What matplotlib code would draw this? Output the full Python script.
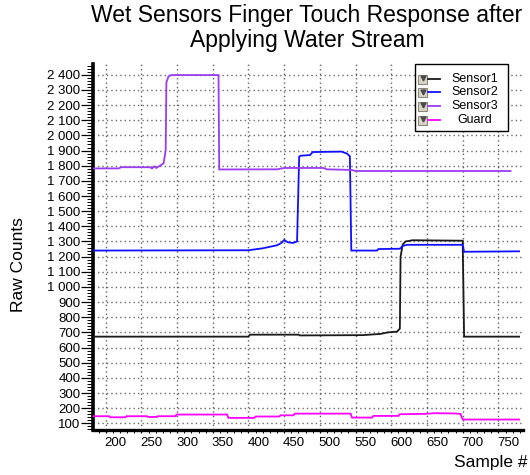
import matplotlib
matplotlib.use("Agg")
import matplotlib.pyplot as plt
from matplotlib.patches import Rectangle
from matplotlib.lines import Line2D
from matplotlib.ticker import MultipleLocator, FuncFormatter
from matplotlib.transforms import ScaledTranslation

plt.rcParams['font.family'] = ['Liberation Sans', 'DejaVu Sans']

# ---- data (sample number vs raw counts, breakpoints of each trace) ----
sensor1_x = [182, 400, 402, 470, 472, 560, 585, 595, 608, 612, 613, 616, 620, 630, 700, 702, 779]
sensor1_y = [672, 672, 685, 685, 680, 682, 690, 700, 705, 725, 1200, 1280, 1300, 1308, 1305, 672, 672]

sensor2_x = [182, 400, 420, 440, 446, 450, 455, 462, 468, 471, 473, 486, 490, 530, 538, 542, 544,
             580, 582, 612, 616, 622, 700, 702, 779]
sensor2_y = [1240, 1242, 1255, 1275, 1290, 1310, 1295, 1290, 1300, 1860, 1866, 1870, 1890, 1893, 1880, 1862, 1240,
             1240, 1250, 1252, 1270, 1278, 1278, 1232, 1235]

sensor3_x = [182, 218, 222, 262, 265, 268, 271, 276, 281, 284, 285, 288, 292, 358, 359, 440, 450, 505, 510,
             544, 550, 767]
sensor3_y = [1782, 1782, 1790, 1790, 1782, 1795, 1785, 1800, 1815, 1900, 2350, 2390, 2398, 2398, 1775, 1776,
             1785, 1785, 1776, 1772, 1765, 1765]

guard_x = [182, 205, 206, 228, 229, 258, 259, 272, 273, 298, 299, 370, 372, 408, 410, 443, 445, 463, 465,
           543, 545, 573, 575, 610, 612, 650, 660, 690, 697, 700, 779]
guard_y = [147, 147, 140, 140, 147, 147, 142, 142, 147, 147, 158, 158, 136, 136, 145, 145, 153, 153, 164,
           164, 138, 138, 149, 149, 160, 163, 167, 165, 162, 125, 125]

series_names = ["Sensor1", "Sensor2", "Sensor3", "Guard"]
series_colors = ["#1a1a1a", "#1010ff", "#9a3cf2", "#ff00ff"]
series_x = [sensor1_x, sensor2_x, sensor3_x, guard_x]
series_y = [sensor1_y, sensor2_y, sensor3_y, guard_y]

x_ticks = list(range(200, 751, 50))
y_ticks = list(range(100, 2401, 100))

title = "Wet Sensors Finger Touch Response after\nApplying Water Stream"
x_label = "Sample #"
y_label = "Raw Counts"

# ---- figure ----
W, H = 530, 475
fig = plt.figure(figsize=(W / 100, H / 100), dpi=100)
fig.patch.set_facecolor("white")


def fx(x):
    return x / W


def fy(y):
    return 1 - y / H


ax = fig.add_axes([fx(93), fy(430), (523 - 93) / W, (430 - 64) / H])
ax.set_xlim(182.2, 784.5)
ax.set_ylim(56, 2471)
ax.set_axisbelow(True)

for xs, ys, c in zip(series_x, series_y, series_colors):
    ax.plot(xs, ys, color=c, lw=1.3, solid_joinstyle="miter", zorder=3)

ax.set_xticks(x_ticks)
ax.set_yticks(y_ticks)
ax.xaxis.set_minor_locator(MultipleLocator(10))
ax.yaxis.set_minor_locator(MultipleLocator(20))
ax.yaxis.set_major_formatter(FuncFormatter(lambda v, p: f"{int(v):,}".replace(",", " ")))

# dotted major grid
for yv in y_ticks:
    ax.axhline(yv, color="#6a6a6a", lw=1.0, linestyle=(0, (1.0, 2.2)), zorder=1)
for xv in x_ticks:
    ax.axvline(xv, color="#606060", lw=1.0, linestyle=(0, (1.0, 2.2)), zorder=1)

for side in ("top", "right"):
    ax.spines[side].set_visible(False)
ax.spines["left"].set_linewidth(2.6)
ax.spines["bottom"].set_linewidth(2.4)

ax.tick_params(axis="y", which="major", length=8.6, width=0.9, pad=0.5, labelsize=9.5, direction="out")
ax.tick_params(axis="y", which="minor", length=4.3, width=0.7, direction="out")
ax.tick_params(axis="x", which="major", length=2.5, width=0.9, pad=2.5, labelsize=9.5, direction="out")
ax.tick_params(axis="x", which="minor", length=1.8, width=0.7, direction="out")

shift = ScaledTranslation(10 / 100, 0, fig.dpi_scale_trans)
for t in ax.xaxis.get_major_ticks():
    t.label1.set_transform(t.label1.get_transform() + shift)

fig.text(fx(307), fy(28), title, ha="center", va="center", fontsize=16.5, linespacing=1.12)
fig.text(fx(528), fy(462), x_label, ha="right", va="center", fontsize=12.5)
fig.text(fx(19), fy(265), y_label, ha="center", va="center", rotation=90, fontsize=12.5)

# ---- legend panel ----
fig.add_artist(Rectangle((fx(415), fy(131)), (508 - 415) / W, (131 - 64) / H,
                         transform=fig.transFigure, facecolor="white", edgecolor="black", lw=1.0))
row_y = [79, 92.5, 106, 120]
for name, c, ry in zip(series_names, series_colors, row_y):
    fig.add_artist(Rectangle((fx(418), fy(ry + 4.5)), 9 / W, 9 / H, transform=fig.transFigure,
                             facecolor="#d9d6c6", edgecolor="#8a887c", lw=0.8))
    fig.add_artist(Line2D([fx(422.5)], [fy(ry - 1)], transform=fig.transFigure, marker="v",
                          markersize=3.5, color="#4a4a4a", lw=0))
    fig.add_artist(Line2D([fx(428), fx(440)], [fy(ry), fy(ry)], transform=fig.transFigure,
                          color=c, lw=1.3))
    fig.text(fx(475), fy(ry), name, ha="center", va="center", fontsize=9)

fig.savefig("out.png", dpi=100, facecolor="white")
